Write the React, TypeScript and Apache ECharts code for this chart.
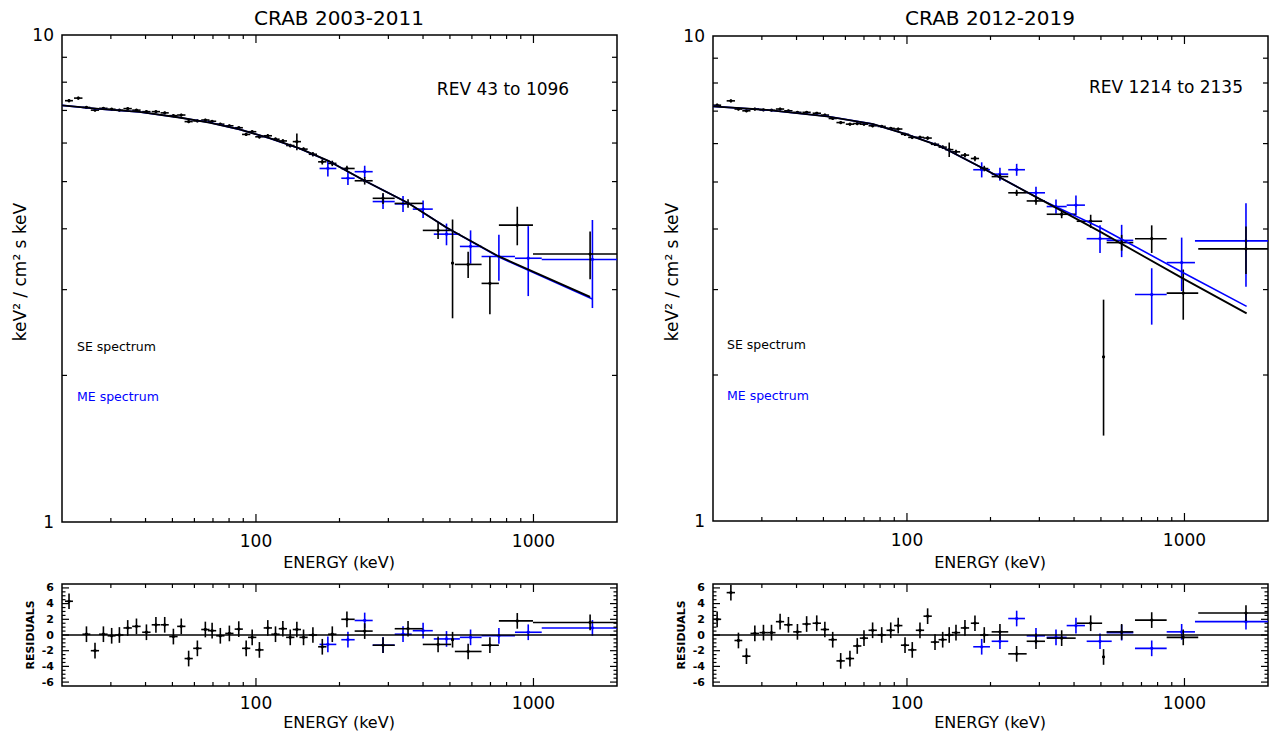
import React, { useEffect, useRef } from "react";
import * as echarts from "echarts";

const FONT = "'DejaVu Sans', 'Liberation Sans', sans-serif";
const BLUE = "#0000ff";
const BLACK = "#000000";

// ---------- tick values ----------
const xMinorTicks = [30, 40, 50, 60, 70, 80, 90, 200, 300, 400, 500, 600, 700, 800, 900];
const xMajorTicks = [100, 1000];
const yMainMinorTicks = [2, 3, 4, 5, 6, 7, 8, 9];
const resMajorTicks = [-6, -4, -2, 0, 2, 4, 6];
const resMinorTicks = [-5.5, -5, -4.5, -3.5, -3, -2.5, -1.5, -1, -0.5, 0.5, 1, 1.5, 2.5, 3, 3.5, 4.5, 5, 5.5];
const RES_SIGMA = 1;

// ---------- CRAB 2003-2011 ----------
// [energy keV, bin low, bin high, keV^2/cm2 s keV, sigma]
const seLeft = [
  [21.2, 20.5, 21.9, 7.33, 0.05],
  [22.9, 22.1, 23.7, 7.42, 0.05],
  [24.5, 23.7, 25.3, 7.1, 0.04],
  [26.3, 25.4, 27.2, 7.01, 0.04],
  [28.2, 27.2, 29.2, 7.07, 0.04],
  [30.2, 29.2, 31.2, 7.04, 0.04],
  [32.2, 31.1, 33.3, 7.01, 0.04],
  [34.5, 33.3, 35.7, 7.06, 0.04],
  [37.1, 35.8, 38.4, 7.01, 0.04],
  [40.3, 38.9, 41.7, 6.96, 0.04],
  [43.6, 42.1, 45.1, 6.96, 0.04],
  [46.9, 45.3, 48.5, 6.92, 0.04],
  [50.4, 48.7, 52.2, 6.83, 0.04],
  [53.8, 52.0, 55.7, 6.85, 0.04],
  [57.2, 55.3, 59.2, 6.64, 0.04],
  [61.5, 59.4, 63.7, 6.66, 0.04],
  [65.7, 63.5, 68.0, 6.69, 0.04],
  [69.5, 67.1, 71.9, 6.65, 0.04],
  [74.4, 71.9, 77.0, 6.56, 0.04],
  [80.2, 77.5, 83.0, 6.51, 0.04],
  [86.7, 83.8, 89.7, 6.45, 0.04],
  [92.2, 89.1, 95.4, 6.25, 0.05],
  [96.9, 93.6, 100.3, 6.33, 0.04],
  [102.9, 99.4, 106.5, 6.18, 0.05],
  [110.3, 106.6, 114.2, 6.21, 0.05],
  [117.6, 113.6, 121.7, 6.11, 0.05],
  [125.0, 120.8, 129.4, 6.06, 0.05],
  [132.9, 128.4, 137.6, 5.93, 0.05],
  [140.4, 135.7, 145.3, 6.04, 0.24],
  [148.4, 143.4, 153.6, 5.83, 0.05],
  [160.4, 155.0, 166.0, 5.69, 0.06],
  [173.4, 167.5, 179.5, 5.49, 0.07],
  [188.4, 182.0, 195.0, 5.45, 0.07],
  [212.7, 203.0, 226.8, 5.32, 0.07],
  [246.5, 226.8, 263.4, 5.02, 0.09],
  [287.0, 263.4, 316.2, 4.62, 0.12],
  [353.2, 316.2, 399.2, 4.51, 0.09],
  [453.2, 399.2, 505.0, 3.97, 0.16],
  [511.0, 505.0, 517.0, 3.4, 0.78],
  [581.6, 520.8, 650.1, 3.38, 0.21],
  [696.6, 650.1, 750.6, 3.09, 0.42],
  [874.3, 750.6, 995.9, 4.07, 0.37],
  [1600, 995.9, 2000, 3.55, 0.4],
];
const meLeft = [
  [181.6, 169.5, 194.8, 5.32, 0.2],
  [214.5, 203.0, 226.8, 5.08, 0.16],
  [246.5, 226.8, 263.4, 5.24, 0.15],
  [287.0, 263.4, 316.2, 4.55, 0.16],
  [338.8, 316.2, 364.2, 4.5, 0.17],
  [400.2, 367.3, 433.7, 4.39, 0.18],
  [486.0, 437.3, 543.0, 3.9, 0.2],
  [593.4, 543.0, 650.1, 3.68, 0.29],
  [750.6, 650.1, 857.7, 3.51, 0.38],
  [957.6, 857.7, 1071, 3.48, 0.57],
  [1631, 1071, 2000, 3.46, 0.71],
];
const seLeftResiduals = [
  4.3, null, 0.1, -2.0, 0.1, -0.1, 0, 0.9, 1.1, 0.35, 1.3, 1.3, -0.2, 1.1, -3.0, -1.7, 0.7, 0.55,
  -0.1, 0.2, 0.75, -1.7, -0.3, -1.9, 0.9, 0.1, 0.8, -0.3, 0.7, -0.3, 0, -1.5, 0.1,
  2.0, 0.5, -1.3, 0.8, -1.2, -0.6, -2.1, -1.3, 1.8, 1.6,
];
const meLeftResiduals = [-1.2, -0.6, 1.85, -1.3, 0.1, 0.55, -0.5, -0.3, -0.1, 0.35, 0.9];
const modelLeftEnergy = [20, 27.2, 38, 52.9, 67.9, 87.2, 111.9, 143.5, 184.2, 246.5, 353.2, 487.3, 750.6, 1600];
const modelLeftSE = [7.17, 7.05, 6.95, 6.77, 6.61, 6.4, 6.14, 5.85, 5.5, 5.02, 4.52, 4.02, 3.51, 2.9];
const modelLeftMEEnergy = [20, 27.2, 38, 52.9, 67.9, 87.2, 111.9, 143.5, 184.2, 246.5, 353.2, 487.3, 750.6, 1631];
const modelLeftME = [7.17, 7.05, 6.95, 6.77, 6.61, 6.4, 6.14, 5.85, 5.5, 5.02, 4.52, 4.02, 3.5, 2.87];

// ---------- CRAB 2012-2019 ----------
const seRight = [
  [20.7, 20.0, 21.4, 7.2, 0.05],
  [23.2, 22.4, 24.0, 7.35, 0.05],
  [24.7, 23.9, 25.5, 7.07, 0.04],
  [26.4, 25.5, 27.3, 7.01, 0.04],
  [28.3, 27.3, 29.3, 7.07, 0.04],
  [30.4, 29.4, 31.5, 7.04, 0.04],
  [32.5, 31.4, 33.6, 7.03, 0.04],
  [34.9, 33.7, 36.1, 7.07, 0.04],
  [37.4, 36.1, 38.7, 7.01, 0.04],
  [40.3, 38.9, 41.7, 6.96, 0.04],
  [43.5, 42.0, 45.0, 6.96, 0.04],
  [47.3, 45.7, 49.0, 6.93, 0.04],
  [50.6, 48.9, 52.4, 6.87, 0.04],
  [54.0, 52.2, 55.9, 6.76, 0.04],
  [57.7, 55.7, 59.7, 6.63, 0.04],
  [62.3, 60.2, 64.5, 6.58, 0.04],
  [66.2, 64.0, 68.5, 6.6, 0.04],
  [70.0, 67.6, 72.4, 6.58, 0.04],
  [75.2, 72.7, 77.9, 6.53, 0.04],
  [81.1, 78.4, 83.9, 6.51, 0.04],
  [87.4, 84.4, 90.4, 6.45, 0.04],
  [93.0, 89.9, 96.3, 6.43, 0.04],
  [98.4, 95.1, 101.8, 6.27, 0.05],
  [104.5, 101.0, 108.2, 6.18, 0.05],
  [111.4, 107.6, 115.3, 6.18, 0.05],
  [118.7, 114.7, 122.9, 6.16, 0.05],
  [126.2, 121.9, 130.6, 5.98, 0.05],
  [134.5, 130.0, 139.2, 5.9, 0.05],
  [142.0, 137.2, 147.0, 5.83, 0.2],
  [150.2, 145.1, 155.5, 5.77, 0.06],
  [161.8, 156.3, 167.5, 5.68, 0.06],
  [175.8, 169.9, 181.9, 5.59, 0.07],
  [189.9, 183.5, 196.5, 5.33, 0.07],
  [216.3, 201.9, 231.7, 5.13, 0.07],
  [248.5, 231.7, 270.0, 4.75, 0.07],
  [291.7, 270.0, 314.3, 4.57, 0.08],
  [361.0, 318.8, 405.5, 4.29, 0.08],
  [459.2, 408.9, 505.0, 4.15, 0.13],
  [511.0, 505.0, 517.0, 2.18, 0.68],
  [593.8, 524.3, 654.0, 3.75, 0.14],
  [762.0, 663.2, 862.8, 3.82, 0.25],
  [990.0, 862.8, 1121, 2.95, 0.35],
  [1666, 1121, 2000, 3.64, 0.41],
];
const meRight = [
  [185.9, 173.3, 199.1, 5.3, 0.19],
  [216.3, 201.9, 231.7, 5.19, 0.16],
  [248.5, 231.7, 266.2, 5.3, 0.15],
  [291.7, 270.0, 314.3, 4.75, 0.14],
  [344.4, 318.8, 376.3, 4.45, 0.15],
  [406.4, 376.3, 437.9, 4.48, 0.21],
  [496.2, 444.2, 546.8, 3.82, 0.25],
  [593.8, 524.3, 654.0, 3.79, 0.29],
  [762.0, 663.2, 862.8, 2.93, 0.39],
  [977.0, 862.8, 1091, 3.41, 0.43],
  [1666, 1091, 2000, 3.78, 0.74],
];
const seRightResiduals = [
  2.0, 5.4, -0.7, -2.7, 0.2, 0.3, 0.3, 1.7, 1.3, 0.4, 1.4, 1.5, 0.7, -0.6, -3.3, -3.0, -1.4, -0.4,
  0.6, 0, 0.6, 1.2, -1.3, -1.9, 0.6, 2.4, -0.9, -0.6, 0, 0.3, 0.9, 1.5, 0,
  0.4, -2.4, -0.8, -0.4, 1.5, -2.8, 0.4, 1.9, -0.3, 2.8,
];
const meRightResiduals = [-1.5, -0.8, 2.1, -0.1, -0.3, 1.2, -0.8, 0.3, -1.7, 0.4, 1.7];
const modelRightEnergy = [20, 31.2, 51.4, 75.6, 99.7, 131.5, 188.4, 301.5, 496.2, 990, 1675];
const modelRightSE = [7.16, 7.04, 6.83, 6.58, 6.27, 5.93, 5.33, 4.61, 3.95, 3.16, 2.68];
const modelRightME = [7.16, 7.04, 6.83, 6.58, 6.27, 5.93, 5.33, 4.61, 4.03, 3.25, 2.77];

// ---------- helpers ----------
const line = (x1: number, y1: number, x2: number, y2: number, color: string, lw: number) => ({
  type: "line",
  shape: { x1, y1, x2, y2 },
  style: { stroke: color, lineWidth: lw },
});

const crossRender = (color: string, lw: number) => (params: any, api: any) => {
  const e = api.value(0);
  const lo = api.value(1);
  const hi = api.value(2);
  const v = api.value(3);
  const s = api.value(4);
  const c = api.coord([e, v]);
  const l = api.coord([lo, v]);
  const h = api.coord([hi, v]);
  const t = api.coord([e, v + s]);
  const b = api.coord([e, v - s]);
  return {
    type: "group",
    children: [
      line(l[0], c[1], h[0], c[1], color, lw),
      line(c[0], t[1], c[0], b[1], color, lw),
      { type: "circle", shape: { cx: c[0], cy: c[1], r: 1.6 }, style: { fill: color } },
    ],
  };
};

const xTickRender = (majorLen: number, minorLen: number) => (params: any, api: any) => {
  const cs = params.coordSys;
  const px = api.coord([api.value(0), api.value(1)])[0];
  const len = api.value(2) ? majorLen : minorLen;
  const bottom = cs.y + cs.height;
  return {
    type: "group",
    children: [line(px, bottom, px, bottom - len, BLACK, 1.2), line(px, cs.y, px, cs.y + len, BLACK, 1.2)],
  };
};

const yTickRender = (majorLen: number, minorLen: number) => (params: any, api: any) => {
  const cs = params.coordSys;
  const py = api.coord([api.value(0), api.value(1)])[1];
  const len = api.value(2) ? majorLen : minorLen;
  const right = cs.x + cs.width;
  return {
    type: "group",
    children: [line(cs.x, py, cs.x + len, py, BLACK, 1.2), line(right, py, right - len, py, BLACK, 1.2)],
  };
};

const xTickData = (refY: number) => [
  ...xMinorTicks.map((v) => [v, refY, 0]),
  ...xMajorTicks.map((v) => [v, refY, 1]),
];

const residualData = (base: number[][], res: (number | null)[]) =>
  base
    .map((d, i) => (res[i] === null || res[i] === undefined ? null : [d[0], d[1], d[2], res[i], RES_SIGMA]))
    .filter((d) => d !== null);

const pairs = (xs: number[], ys: number[]) => xs.map((x, i) => [x, ys[i]]);

const isDecade = (v: number) => {
  const l = Math.log10(v);
  return Math.abs(l - Math.round(l)) < 1e-6 && (Math.round(l) === 2 || Math.round(l) === 3);
};

function buildOption() {
  const gridBase = { show: true, borderColor: BLACK, borderWidth: 1.5, backgroundColor: "transparent" };
  const grid = [
    { ...gridBase, left: 62, top: 35, width: 555, height: 487 },
    { ...gridBase, left: 713, top: 36, width: 555, height: 485 },
    { ...gridBase, left: 62, top: 584, width: 555, height: 102 },
    { ...gridBase, left: 713, top: 584, width: 555, height: 102 },
  ];

  const xAxis = [0, 1, 2, 3].map((i) => ({
    type: "log",
    logBase: 10,
    gridIndex: i,
    min: 20,
    max: 2000,
    axisLine: { show: false },
    axisTick: { show: false },
    splitLine: { show: false },
    axisLabel: {
      color: BLACK,
      fontSize: 17,
      fontFamily: FONT,
      margin: i < 2 ? 10 : 8,
      formatter: (v: number) => (isDecade(v) ? String(Math.round(v)) : ""),
    },
  }));

  const yAxis = [
    ...[0, 1].map((i) => ({
      type: "log",
      logBase: 10,
      gridIndex: i,
      min: 1,
      max: 10,
      axisLine: { show: false },
      axisTick: { show: false },
      splitLine: { show: false },
      axisLabel: { color: BLACK, fontSize: 17, fontFamily: FONT, margin: 8 },
    })),
    ...[2, 3].map((i) => ({
      type: "value",
      gridIndex: i,
      min: -6.5,
      max: 6.5,
      axisLine: { show: false },
      axisTick: { show: false },
      splitLine: { show: false },
      axisLabel: {
        color: BLACK,
        fontSize: 11,
        fontWeight: "bold",
        fontFamily: FONT,
        margin: 8,
        customValues: resMajorTicks,
      },
    })),
  ];

  const series: any[] = [];
  const addTicks = (g: number, refY: number, yMajor: number[], yMinor: number[], yMajorLen: number, yMinorLen: number) => {
    series.push({
      type: "custom",
      xAxisIndex: g,
      yAxisIndex: g,
      silent: true,
      renderItem: xTickRender(8, 4),
      encode: { x: 0, y: 1 },
      data: xTickData(refY),
      z: 5,
    });
    series.push({
      type: "custom",
      xAxisIndex: g,
      yAxisIndex: g,
      silent: true,
      renderItem: yTickRender(yMajorLen, yMinorLen),
      encode: { x: 0, y: 1 },
      data: [...yMinor.map((v) => [100, v, 0]), ...yMajor.map((v) => [100, v, 1])],
      z: 5,
    });
  };
  const addCrosses = (g: number, data: any[], color: string) => {
    series.push({
      type: "custom",
      xAxisIndex: g,
      yAxisIndex: g,
      silent: true,
      renderItem: crossRender(color, 1.6),
      encode: { x: 0, y: 3 },
      data,
      z: 3,
    });
  };
  const addLine = (g: number, data: number[][], color: string, width: number) => {
    series.push({
      type: "line",
      xAxisIndex: g,
      yAxisIndex: g,
      silent: true,
      showSymbol: false,
      symbol: "none",
      data,
      lineStyle: { color, width },
      z: 4,
    });
  };

  // main left
  addTicks(0, 2, [], yMainMinorTicks, 8, 5);
  addCrosses(0, meLeft, BLUE);
  addCrosses(0, seLeft, BLACK);
  addLine(0, pairs(modelLeftMEEnergy, modelLeftME), BLUE, 1.6);
  addLine(0, pairs(modelLeftEnergy, modelLeftSE), BLACK, 1.8);

  // main right
  addTicks(1, 2, [], yMainMinorTicks, 8, 5);
  addCrosses(1, meRight, BLUE);
  addCrosses(1, seRight, BLACK);
  addLine(1, pairs(modelRightEnergy, modelRightME), BLUE, 1.6);
  addLine(1, pairs(modelRightEnergy, modelRightSE), BLACK, 1.8);

  // residuals left
  addTicks(2, 0, resMajorTicks, resMinorTicks, 7, 3.5);
  addLine(2, [[20, 0], [2000, 0]], BLACK, 1.5);
  addCrosses(2, residualData(meLeft, meLeftResiduals), BLUE);
  addCrosses(2, residualData(seLeft, seLeftResiduals), BLACK);

  // residuals right
  addTicks(3, 0, resMajorTicks, resMinorTicks, 7, 3.5);
  addLine(3, [[20, 0], [2000, 0]], BLACK, 1.5);
  addCrosses(3, residualData(meRight, meRightResiduals), BLUE);
  addCrosses(3, residualData(seRight, seRightResiduals), BLACK);

  const txt = (text: string, x: number, y: number, size: number, opts: any = {}) => ({
    type: "text",
    x,
    y,
    rotation: opts.rotation || 0,
    style: {
      text,
      fill: opts.color || BLACK,
      fontSize: size,
      fontFamily: FONT,
      fontWeight: opts.weight || "normal",
      align: opts.align || "center",
      verticalAlign: "middle",
    },
    silent: true,
  });

  const graphic = [
    txt("CRAB 2003-2011", 339, 18, 20),
    txt("CRAB 2012-2019", 990, 18, 20),
    txt("REV 43 to 1096", 503, 89, 17),
    txt("REV 1214 to 2135", 1166, 87, 17),
    txt("SE spectrum", 77, 346, 12.5, { align: "left" }),
    txt("ME spectrum", 77, 396, 12.5, { align: "left", color: BLUE }),
    txt("SE spectrum", 727, 344, 12.5, { align: "left" }),
    txt("ME spectrum", 727, 395, 12.5, { align: "left", color: BLUE }),
    txt("keV² / cm² s keV", 20, 272, 17, { rotation: Math.PI / 2 }),
    txt("keV² / cm² s keV", 672, 272, 17, { rotation: Math.PI / 2 }),
    txt("ENERGY (keV)", 339, 562, 16),
    txt("ENERGY (keV)", 990, 562, 16),
    txt("ENERGY (keV)", 339, 722, 16),
    txt("ENERGY (keV)", 990, 722, 16),
    txt("RESIDUALS", 30, 635, 11, { rotation: Math.PI / 2, weight: "bold" }),
    txt("RESIDUALS", 681, 635, 11, { rotation: Math.PI / 2, weight: "bold" }),
  ];

  return {
    animation: false,
    backgroundColor: "#ffffff",
    grid,
    xAxis,
    yAxis,
    series,
    graphic,
  };
}

export default function App() {
  const ref = useRef<HTMLDivElement>(null);
  useEffect(() => {
    if (!ref.current) return;
    const chart = echarts.init(ref.current, null, { renderer: "svg" });
    chart.setOption(buildOption() as any);
    return () => chart.dispose();
  }, []);
  return (
    <div
      ref={ref}
      style={{ position: "fixed", left: 0, top: 0, width: 1274, height: 735, background: "#fff" }}
    />
  );
}
